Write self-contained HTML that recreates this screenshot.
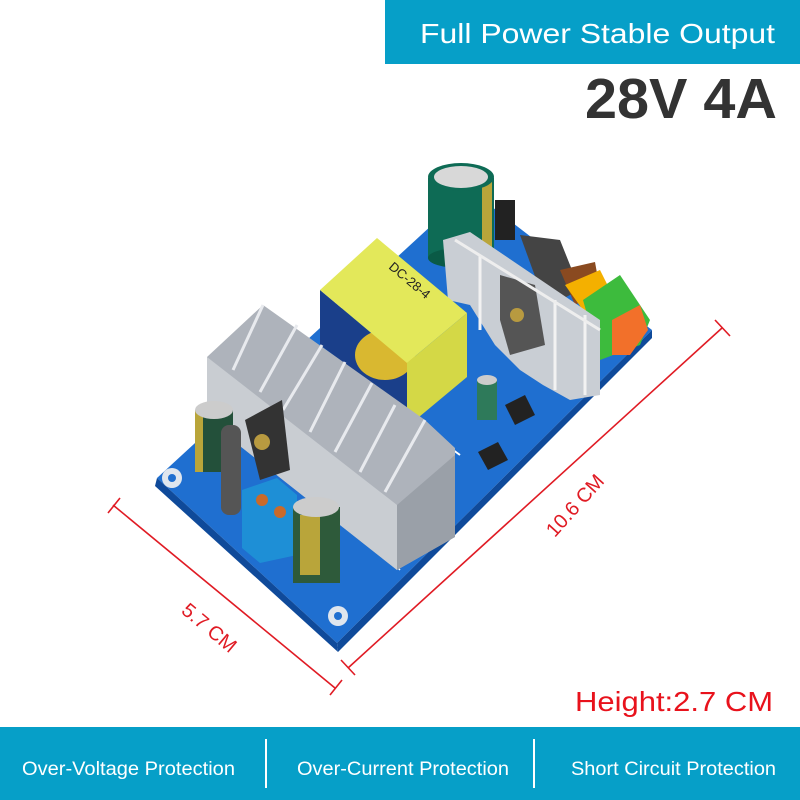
<!DOCTYPE html>
<html><head><meta charset="utf-8"><style>
html,body{margin:0;padding:0;background:#fff;}
svg{display:block;font-family:"Liberation Sans",sans-serif;}
</style></head><body>
<svg width="800" height="800" viewBox="0 0 800 800" xmlns="http://www.w3.org/2000/svg">
<rect width="800" height="800" fill="#fff"/>
<!-- top banner -->
<rect x="385" y="0" width="415" height="64" fill="#069fc8"/>
<text x="420" y="43" font-size="28" fill="#fff" textLength="355" lengthAdjust="spacingAndGlyphs">Full Power Stable Output</text>
<text x="585" y="118" font-size="57" font-weight="bold" fill="#333" textLength="192" lengthAdjust="spacingAndGlyphs">28V 4A</text>

<!-- board -->
<polygon points="157,478 337,643 652,330 470,190" fill="#1f6fd0"/>
<polygon points="157,478 337,643 338,652 155,486" fill="#0f4a9a"/>
<polygon points="337,643 652,330 652,338 338,652" fill="#0f4a9a"/>
<circle cx="172" cy="478" r="10" fill="#dfe6ee"/><circle cx="172" cy="478" r="4" fill="#1f6fd0"/>
<circle cx="338" cy="616" r="10" fill="#dfe6ee"/><circle cx="338" cy="616" r="4" fill="#1f6fd0"/>
<line x1="420" y1="426" x2="460" y2="455" stroke="#fff" stroke-width="2"/>
<line x1="340" y1="510" x2="400" y2="570" stroke="#fff" stroke-width="1.5"/>

<!-- big cap -->
<rect x="428" y="178" width="66" height="80" fill="#0e6b55"/>
<rect x="482" y="180" width="10" height="76" fill="#b9a53a"/>
<ellipse cx="461" cy="258" rx="33" ry="10" fill="#0a5a46"/>
<ellipse cx="461" cy="177" rx="33" ry="14" fill="#0e6b55"/>
<ellipse cx="461" cy="177" rx="27" ry="11" fill="#d8d8d8"/>
<rect x="495" y="200" width="20" height="40" fill="#222"/>

<!-- right heatsink & parts -->
<polygon points="520,235 560,240 580,290 560,300 540,290" fill="#444"/>
<polygon points="560,270 595,262 600,290 575,305" fill="#8a4a20"/>
<polygon points="565,285 600,270 615,300 590,320" fill="#f4b000"/>
<polygon points="583,300 620,275 650,320 640,345 600,360" fill="#3dbb3d"/>
<polygon points="612,320 640,305 648,330 630,355 612,355" fill="#f2702a"/>
<polygon points="443,240 470,232 600,320 600,395 570,400 543,385 520,370 495,345 470,305 448,300" fill="#c9ced4"/>
<polygon points="500,275 535,285 545,345 510,355 500,320" fill="#555"/>
<circle cx="517" cy="315" r="7" fill="#b89a40"/>
<line x1="480" y1="255" x2="480" y2="330" stroke="#f2f2f2" stroke-width="3"/>
<line x1="555" y1="300" x2="555" y2="390" stroke="#f2f2f2" stroke-width="3"/>
<line x1="585" y1="315" x2="585" y2="395" stroke="#f2f2f2" stroke-width="3"/>
<line x1="455" y1="240" x2="600" y2="330" stroke="#eee" stroke-width="3"/>

<!-- small parts right -->
<rect x="477" y="380" width="20" height="40" fill="#2e7a5a"/>
<ellipse cx="487" cy="380" rx="10" ry="5" fill="#ccc"/>
<polygon points="505,405 525,395 535,415 515,425" fill="#222"/>
<polygon points="478,452 498,442 508,460 488,470" fill="#222"/>

<!-- transformer -->
<polygon points="320,290 407,363 407,427 365,400 340,360 320,345" fill="#1a3f8a"/>
<ellipse cx="385" cy="355" rx="30" ry="25" fill="#d9b830"/>
<polygon points="320,290 377,238 467,313 407,363" fill="#e3e85a"/>
<polygon points="407,363 467,313 467,377 407,427" fill="#d4d846"/>
<text x="0" y="0" font-size="13" fill="#222" transform="translate(388,268) rotate(40)">DC-28-4</text>

<!-- big heatsink -->
<polygon points="207,357 263,305 425,420 455,448 455,537 397,570 207,420" fill="#aeb3bb"/>
<polygon points="207,357 397,505 397,570 207,420" fill="#c9cdd2"/>
<polygon points="397,505 455,455 455,537 397,570" fill="#9aa0a8"/>
<g stroke="#e8eaee" stroke-width="3">
<line x1="233" y1="370" x2="263" y2="305"/>
<line x1="260" y1="392" x2="297" y2="325"/>
<line x1="283" y1="410" x2="322" y2="345"/>
<line x1="310" y1="432" x2="345" y2="362"/>
<line x1="335" y1="452" x2="372" y2="383"/>
<line x1="360" y1="472" x2="395" y2="405"/>
<line x1="385" y1="492" x2="425" y2="420"/>
</g>
<polygon points="245,420 282,400 290,470 260,480" fill="#333"/>
<circle cx="262" cy="442" r="8" fill="#b89a40"/>

<!-- left parts -->
<rect x="195" y="410" width="38" height="62" fill="#23503a"/>
<rect x="195" y="410" width="8" height="62" fill="#b9a53a"/>
<ellipse cx="214" cy="410" rx="19" ry="9" fill="#ccc"/>
<rect x="221" y="425" width="20" height="90" rx="8" fill="#555"/>
<polygon points="242,490 277,478 297,495 297,555 260,563 242,548" fill="#1e8fd6"/>
<circle cx="262" cy="500" r="6" fill="#c96a2a"/><circle cx="280" cy="512" r="6" fill="#c96a2a"/>
<rect x="293" y="507" width="47" height="76" fill="#2e5a3a"/>
<rect x="300" y="515" width="20" height="60" fill="#b9a53a"/>
<ellipse cx="316" cy="507" rx="23" ry="10" fill="#ccc"/>

<!-- dimension lines -->
<g stroke="#e01b24" stroke-width="1.6" fill="none">
<line x1="113" y1="505" x2="335" y2="688"/>
<line x1="108" y1="513" x2="120" y2="498"/>
<line x1="330" y1="695" x2="342" y2="680"/>
<line x1="348" y1="668" x2="722" y2="328"/>
<line x1="341" y1="660" x2="355" y2="675"/>
<line x1="715" y1="320" x2="730" y2="336"/>
</g>
<text x="0" y="0" font-size="20" fill="#e01b24" text-anchor="middle" transform="translate(205,633) rotate(40)">5.7 CM</text>
<text x="0" y="0" font-size="20" fill="#e01b24" text-anchor="middle" transform="translate(580,510) rotate(-48)">10.6 CM</text>

<text x="575" y="711" font-size="28" fill="#e8121c" textLength="198" lengthAdjust="spacingAndGlyphs">Height:2.7 CM</text>

<!-- bottom bar -->
<rect x="0" y="727" width="800" height="73" fill="#069fc8"/>
<line x1="266" y1="739" x2="266" y2="788" stroke="#fff" stroke-width="2"/>
<line x1="534" y1="739" x2="534" y2="788" stroke="#fff" stroke-width="2"/>
<text x="22" y="775" font-size="19" fill="#fff" textLength="213" lengthAdjust="spacingAndGlyphs">Over-Voltage Protection</text>
<text x="297" y="775" font-size="19" fill="#fff" textLength="212" lengthAdjust="spacingAndGlyphs">Over-Current Protection</text>
<text x="571" y="775" font-size="19" fill="#fff" textLength="205" lengthAdjust="spacingAndGlyphs">Short Circuit Protection</text>
</svg>
</body></html>
